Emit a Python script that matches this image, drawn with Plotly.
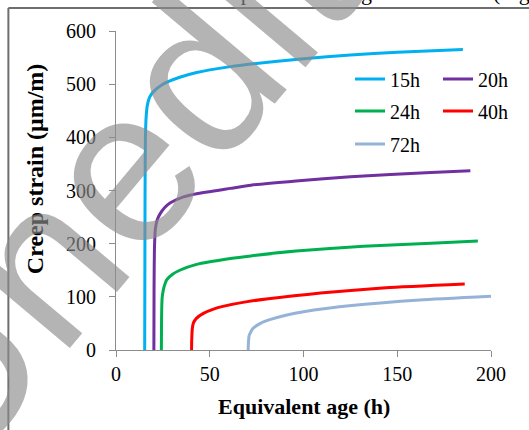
import plotly.graph_objects as go

# ---- data (equivalent age h, creep strain um/m) ----
age_15h = [15.3, 15.4, 15.5, 15.7, 16.1, 16.8, 18.0, 20.0, 25.0, 34.0, 43.0, 61.0, 72.0, 100.0, 125.0, 150.0, 185.0]
eps_15h = [0, 150, 300, 400, 440, 462, 476, 486, 500, 513, 522, 533, 538, 548, 555, 560, 565]

age_20h = [20.2, 20.3, 20.5, 21.0, 22.0, 23.5, 26.0, 29.0, 36.0, 43.0, 61.0, 72.0, 96.0, 125.0, 168.0, 189.0]
eps_20h = [0, 120, 190, 228, 245, 256, 268, 277, 288, 294, 304, 310, 318, 326, 334, 337]

age_24h = [24.2, 24.3, 24.6, 25.3, 26.0, 27.0, 30.0, 34.0, 43.0, 61.0, 72.0, 96.0, 132.0, 168.0, 193.0]
eps_24h = [0, 60, 98, 114, 123, 132, 142, 150, 161, 172, 177, 186, 195, 201, 205]

age_40h = [40.3, 40.4, 40.7, 41.3, 43.0, 46.6, 52.0, 57.0, 70.0, 95.0, 109.0, 144.0, 186.0]
eps_40h = [0, 20, 40, 51, 60, 69, 77, 82, 91, 102, 107, 117, 124]

age_72h = [70.5, 70.6, 71.0, 72.0, 73.2, 77.0, 82.0, 90.0, 100.0, 127.0, 162.0, 200.0]
eps_72h = [0, 12, 27, 35, 41, 50, 57, 65, 72, 84, 94, 101]

series = [
    ("15h", age_15h, eps_15h, "#00B0F0", "legend"),
    ("20h", age_20h, eps_20h, "#7030A0", "legend"),
    ("24h", age_24h, eps_24h, "#00B050", "legend2"),
    ("40h", age_40h, eps_40h, "#FF0000", "legend2"),
    ("72h", age_72h, eps_72h, "#95B3D7", "legend3"),
]

x_ticks = [0, 50, 100, 150, 200]
y_ticks = [0, 100, 200, 300, 400, 500, 600]

SERIF = "Liberation Serif"

fig = go.Figure()
for name, xs, ys, col, lg in series:
    fig.add_trace(go.Scatter(
        x=xs, y=ys, mode="lines", name=name, legend=lg,
        line=dict(color=col, width=3, shape="spline", smoothing=0.5),
    ))

axis_common = dict(
    showgrid=False, zeroline=False, showline=True, linecolor="#8c8c8c", linewidth=1,
    ticks="outside", ticklen=6, tickcolor="#8c8c8c", tickwidth=1,
    tickfont=dict(family=SERIF, size=20, color="black"),
)

legend_common = dict(
    orientation="h", xanchor="left", yanchor="middle", bgcolor="rgba(0,0,0,0)",
    font=dict(family=SERIF, size=20, color="black"), entrywidth=43, entrywidthmode="pixels",
    tracegroupgap=0,
)

fig.update_layout(
    width=529, height=430, autosize=False,
    margin=dict(l=116, r=38, t=31, b=80, autoexpand=False),
    paper_bgcolor="white", plot_bgcolor="white",
    showlegend=True,
    xaxis=dict(range=[0, 200], tickvals=x_ticks, **axis_common),
    yaxis=dict(range=[0, 600], tickvals=y_ticks, ticklabelstandoff=9, **axis_common),
    legend=dict(x=0.624, y=0.8495, **legend_common),
    legend2=dict(x=0.624, y=0.749, **legend_common),
    legend3=dict(x=0.624, y=0.646, **legend_common),
    annotations=[
        dict(text="<b>Equivalent age (h)</b>", xref="paper", yref="paper", x=0.5, y=-0.178,
             xanchor="center", yanchor="middle", showarrow=False,
             font=dict(family=SERIF, size=22, color="black")),
        dict(text="<b>Creep strain (\u03bcm/m)</b>", xref="paper", yref="paper", x=-0.216, y=0.567,
             xanchor="center", yanchor="middle", textangle=-90, showarrow=False,
             font=dict(family=SERIF, size=24, color="black")),
        dict(text="characteristic compressive strength of 40 MPa (Fig", xref="paper", yref="paper",
             x=1.108, y=1.075, xanchor="right", yanchor="bottom", showarrow=False,
             font=dict(family=SERIF, size=22, color="black")),
        dict(text="Unedited", xref="paper", yref="paper", x=0.178, y=0.80,
             xanchor="center", yanchor="middle", textangle=-50, showarrow=False,
             font=dict(family="Liberation Sans", size=220, color="rgba(140,140,140,0.65)")),
    ],
    shapes=[
        dict(type="line", xref="paper", yref="paper", x0=-0.287, x1=-0.287, y0=1.072, y1=-0.3,
             line=dict(color="#6e6e6e", width=2)),
        dict(type="line", xref="paper", yref="paper", x0=-0.287, x1=1.2, y0=1.072, y1=1.072,
             line=dict(color="#6e6e6e", width=2)),
    ],
)

post = (
    "document.documentElement.style.margin='0';document.body.style.margin='0';"
    "document.body.style.overflow='hidden';"
    "var gd=document.getElementById('{plot_id}');"
    "Plotly.relayout(gd,{width:529,height:430});"
)

fig.write_html("out.html", post_script=post, config={"displayModeBar": False, "staticPlot": True})
